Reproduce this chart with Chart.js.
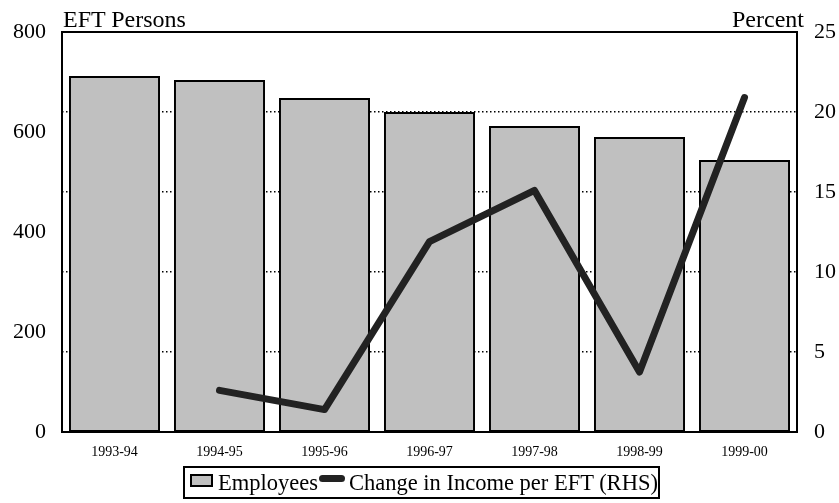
<!DOCTYPE html>
<html>
<head>
<meta charset="utf-8">
<script src="https://cdn.jsdelivr.net/npm/chart.js@4.4.0/dist/chart.umd.min.js"></script>
<style>
    html, body { margin: 0; padding: 0; background: #fff; }
    #wrap { position: relative; width: 839px; height: 503px; font-family: 'Liberation Serif', 'Times New Roman', serif; }
    #chart { position: absolute; left: 0; top: 0; }
    .axis-title { position: absolute; font-size: 24px; color: #000; line-height: 1; }
    #legend {
        position: absolute; left: 183px; top: 466px; width: 473px; height: 29px;
        border: 2px solid #000; box-sizing: content-box; font-size: 22.5px; line-height: 29px;
        white-space: nowrap; color: #000;
    }
    .sw-bar { display: inline-block; width: 19px; height: 9px; background: #c0c0c0; border: 2px solid #000; margin: 0 5px 0 5px; vertical-align: 3px; }
    .sw-line { display: inline-block; width: 26px; height: 7px; background: #222; border-radius: 4px; vertical-align: 8px; margin: 0 4px 0 1px; }
</style>
</head>
<body>
<div id="wrap">
    <canvas id="chart" width="839" height="503"></canvas>
    <div class="axis-title" style="left:63px; top:7px;">EFT Persons</div>
    <div class="axis-title" style="left:732px; top:7px;">Percent</div>
    <div id="legend"><span class="sw-bar"></span>Employees<span class="sw-line"></span>Change in Income per EFT (RHS)</div>
</div>
<script>
// Chart data
const years = ['1993-94', '1994-95', '1995-96', '1996-97', '1997-98', '1998-99', '1999-00'];
const employees = [712, 704, 668, 640, 612, 590, 544];
const incomeChange = [null, 2.6, 1.4, 11.9, 15.1, 3.75, 20.9];
const leftTicks = [0, 200, 400, 600, 800];
const rightTicks = [0, 5, 10, 15, 20, 25];

const serif = "'Liberation Serif', 'Times New Roman', serif";

// Draw frame around the plot area
const framePlugin = {
    id: 'frame',
    afterDatasetsDraw(chart) {
        const a = chart.chartArea;
        const ctx = chart.ctx;
        ctx.save();
        ctx.strokeStyle = '#000';
        ctx.lineWidth = 2;
        ctx.strokeRect(a.left, a.top, a.right - a.left, a.bottom - a.top);
        ctx.restore();
    }
};

function fixWidth(w) {
    return function(scale) {
        scale.width = w;
        scale.paddingTop = 0;
        scale.paddingBottom = 0;
    };
}

new Chart(document.getElementById('chart').getContext('2d'), {
    type: 'bar',
    data: {
        labels: years,
        datasets: [
            {
                type: 'line',
                label: 'Change in Income per EFT (RHS)',
                data: incomeChange,
                yAxisID: 'y1',
                borderColor: '#222',
                borderWidth: 7,
                borderCapStyle: 'round',
                borderJoinStyle: 'round',
                pointRadius: 0,
                fill: false,
                tension: 0,
                order: 0
            },
            {
                label: 'Employees',
                data: employees,
                yAxisID: 'y',
                backgroundColor: '#c0c0c0',
                borderColor: '#000',
                borderWidth: 2,
                borderSkipped: false,
                barPercentage: 0.867,
                categoryPercentage: 1,
                order: 1
            }
        ]
    },
    options: {
        responsive: false,
        animation: false,
        events: [],
        layout: { padding: { top: 32, bottom: 36, left: 0, right: 0 } },
        plugins: {
            legend: { display: false },
            tooltip: { enabled: false }
        },
        scales: {
            x: {
                offset: true,
                grid: { display: false, drawTicks: false },
                border: { display: false },
                ticks: { font: { family: serif, size: 14 }, color: '#000', padding: 12, maxRotation: 0 },
                afterFit(scale) { scale.height = 35; }
            },
            y: {
                position: 'left',
                min: 0,
                max: 800,
                afterBuildTicks(scale) { scale.ticks = leftTicks.map(v => ({ value: v })); },
                grid: { display: false, drawTicks: false },
                border: { display: false },
                ticks: { font: { family: serif, size: 22 }, color: '#000', padding: 16 },
                afterFit: fixWidth(62)
            },
            y1: {
                position: 'right',
                min: 0,
                max: 25,
                afterBuildTicks(scale) { scale.ticks = rightTicks.map(v => ({ value: v })); },
                grid: {
                    drawTicks: false,
                    color: ctx => (ctx.tick.value === 0 || ctx.tick.value === 25) ? 'rgba(0,0,0,0)' : '#000',
                    lineWidth: 1.5
                },
                border: { display: false, dash: [1.5, 2.5] },
                ticks: { font: { family: serif, size: 22 }, color: '#000', padding: 17 },
                afterFit: fixWidth(42)
            }
        }
    },
    plugins: [framePlugin]
});
</script>
</body>
</html>
